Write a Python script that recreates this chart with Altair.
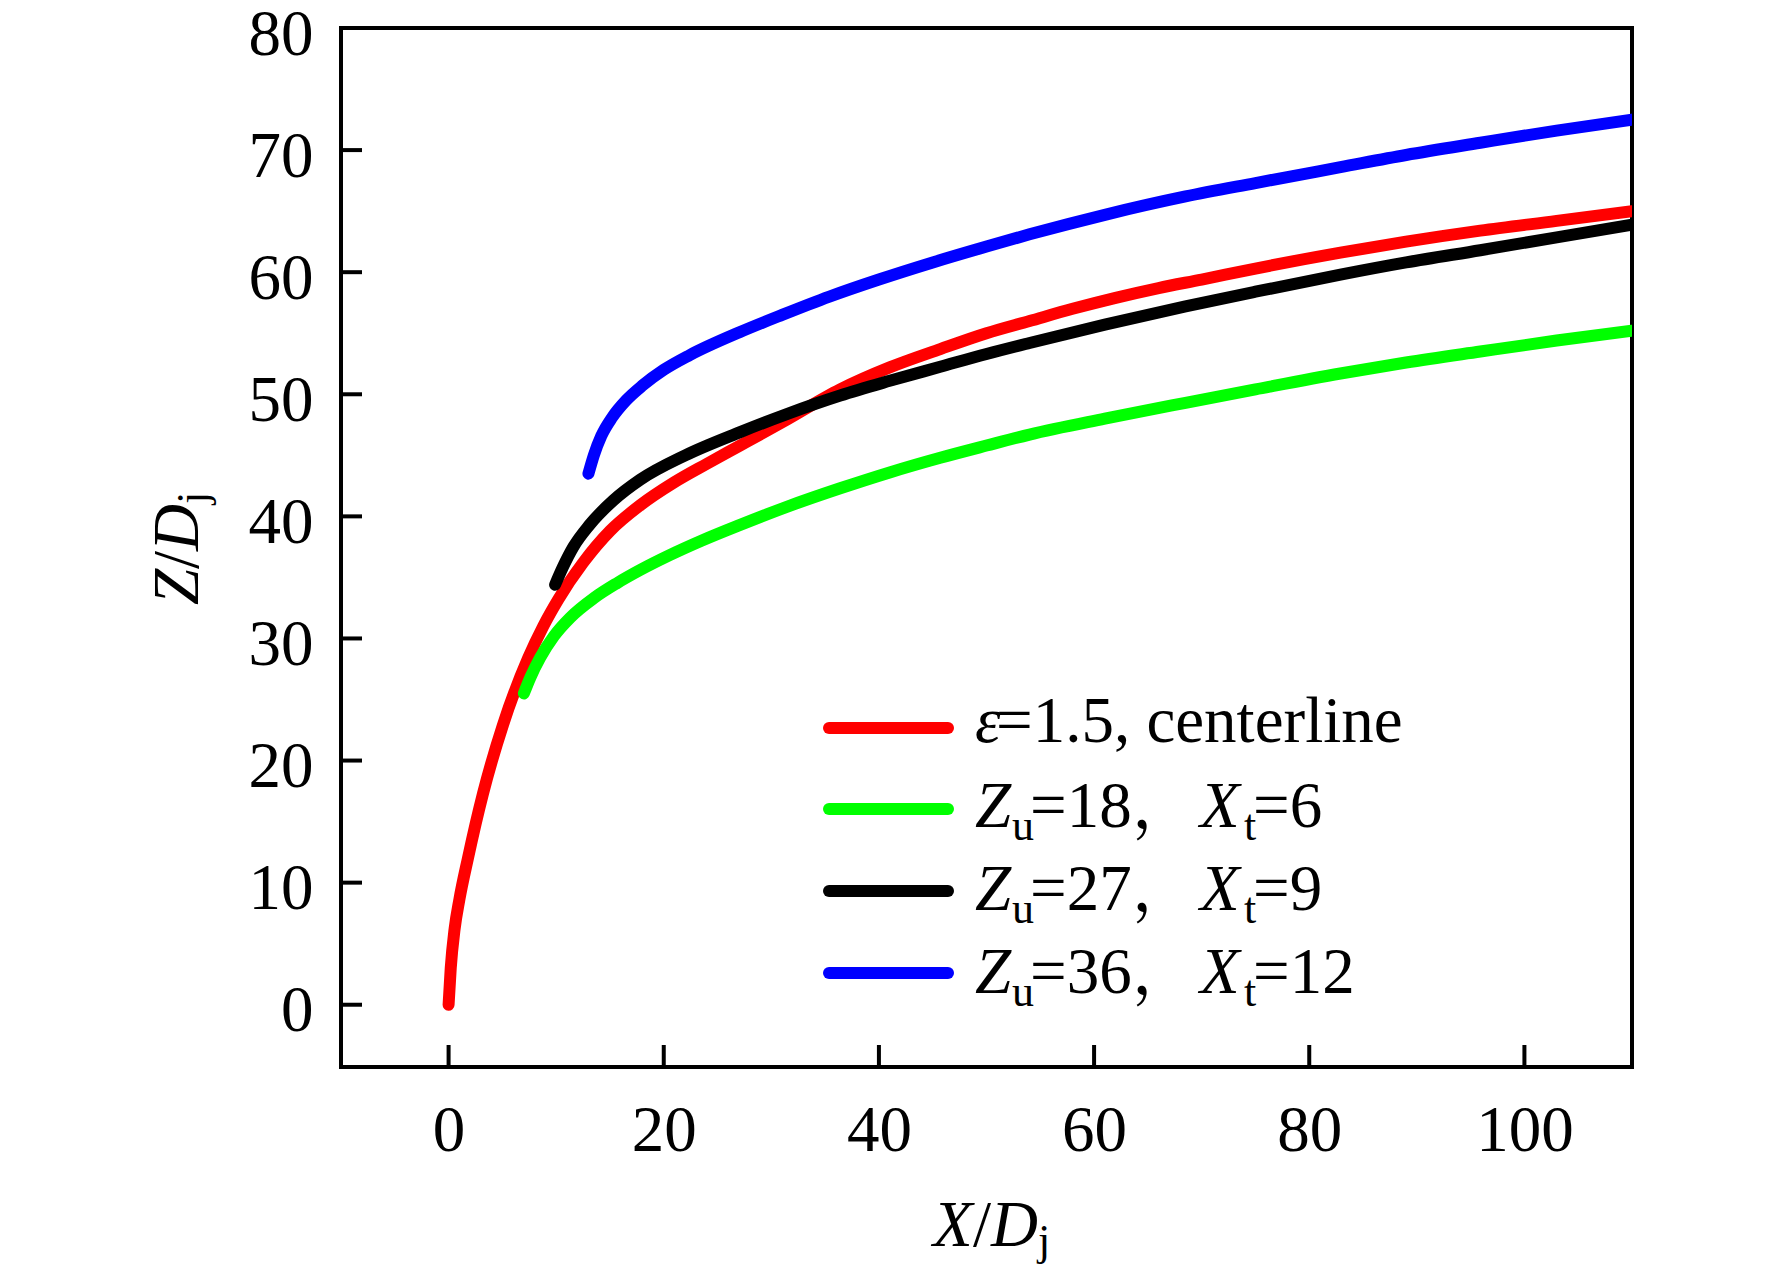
import altair as alt
import pandas as pd

# ---------------- data ----------------
red_x = [0, 0.2, 0.56, 1.0, 1.8, 3.2, 5.05, 7.4, 8.8, 10.2, 12.5, 15.0, 17.8, 21.0, 24.0, 27.1,
         31.0, 36.4, 41.0, 45.7, 50.0, 54.0, 58.0, 62.0, 66.0, 70.0, 75.0, 82.9, 89.0, 95.9,
         103.0, 110.0]
red_z = [0, 3.0, 6.2, 8.6, 12.0, 17.3, 22.9, 28.4, 31.0, 33.2, 36.2, 38.8, 40.9, 42.8, 44.3, 45.8,
         47.7, 50.4, 52.2, 53.7, 55.0, 56.0, 57.0, 57.9, 58.7, 59.4, 60.3, 61.6, 62.5, 63.4,
         64.2, 65.0]

green_x = [7.0, 7.6, 8.5, 9.8, 11.3, 13.5, 15.6, 17.8, 20.5, 23.5, 27.1, 31.5, 36.4, 41.0, 45.7,
           50.0, 54.0, 61.0, 68.5, 75.0, 82.9, 89.0, 95.9, 103.0, 110.0]
green_z = [25.5, 26.8, 28.4, 30.2, 31.7, 33.3, 34.5, 35.6, 36.8, 38.0, 39.3, 40.8, 42.3, 43.6, 44.8,
           45.8, 46.7, 48.0, 49.3, 50.4, 51.7, 52.6, 53.5, 54.4, 55.2]

black_x = [9.9, 10.6, 11.6, 13.1, 15.3, 17.8, 22.0, 27.1, 31.5, 36.4, 41.0, 45.7, 50.0, 54.0,
           61.0, 68.5, 75.0, 82.9, 89.0, 95.9, 103.0, 110.0]
black_z = [34.4, 35.8, 37.5, 39.3, 41.3, 43.0, 45.0, 46.9, 48.4, 49.9, 51.1, 52.25, 53.3, 54.2,
           55.7, 57.2, 58.4, 59.8, 60.8, 61.8, 62.85, 63.9]

blue_x = [13.0, 13.5, 14.2, 15.2, 16.5, 18.0, 20.0, 22.4, 27.1, 31.0, 35.4, 40.0, 45.0, 50.0,
          54.0, 61.0, 68.5, 75.0, 82.9, 89.0, 95.9, 103.0, 110.0]
blue_z = [43.5, 45.0, 46.6, 48.1, 49.5, 50.7, 52.0, 53.2, 55.1, 56.5, 58.0, 59.4, 60.8, 62.1,
          63.1, 64.7, 66.2, 67.3, 68.6, 69.6, 70.6, 71.6, 72.5]

series_names = ["ε=1.5, centerline", "Zu=18, Xt=6", "Zu=27, Xt=9", "Zu=36, Xt=12"]
series_colors = ["#ff0000", "#00ff00", "#000000", "#0000ff"]
zu_values = ["18", "27", "36"]
xt_values = ["6", "9", "12"]

x_ticks = [0, 20, 40, 60, 80, 100]
y_ticks = [0, 10, 20, 30, 40, 50, 60, 70, 80]

# ---------------- layout ----------------
W, H = 1291, 1039
FONT = "Liberation Serif, Times New Roman, Noto Serif CJK SC, Noto Sans CJK SC, serif"
FS = 65
SUB = 44

xs = alt.Scale(domain=[-10, 110], nice=False, zero=False)
ys = alt.Scale(domain=[-5.1, 80], nice=False, zero=False)
xa = alt.Axis(values=x_ticks, ticks=False, domain=False, grid=False, title=None,
              labelFont=FONT, labelFontSize=FS, labelColor="black", labelPadding=32,
              labelFlush=False, labelOverlap=False)
ya = alt.Axis(values=y_ticks, ticks=False, domain=False, grid=False, title=None,
              labelFont=FONT, labelFontSize=FS, labelColor="black", labelPadding=28,
              labelOffset=6, labelFlush=False, labelOverlap=False)

series_xy = [(red_x, red_z), (green_x, green_z), (black_x, black_z), (blue_x, blue_z)]
frames = []
for name, (xx, zz) in zip(series_names, series_xy):
    frames.append(pd.DataFrame({"X": xx, "Z": zz, "series": name}))
df = pd.concat(frames, ignore_index=True)

layers = []
# draw order: red, green, black, blue
for idx in [0, 1, 2, 3]:
    name = series_names[idx]
    layers.append(
        alt.Chart(df[df["series"] == name])
        .mark_line(strokeWidth=12, strokeCap="round", strokeJoin="round",
                   interpolate="monotone", color=series_colors[idx], clip=True)
        .encode(x=alt.X("X:Q", scale=xs, axis=xa), y=alt.Y("Z:Q", scale=ys, axis=ya))
    )

# inward ticks
layers.append(
    alt.Chart(pd.DataFrame({"X": x_ticks}))
    .mark_rule(strokeWidth=4, color="black")
    .encode(x=alt.X("X:Q", scale=xs, axis=xa), y=alt.value(H), y2=alt.value(H - 22))
)
layers.append(
    alt.Chart(pd.DataFrame({"Z": y_ticks}))
    .mark_rule(strokeWidth=4, color="black")
    .encode(y=alt.Y("Z:Q", scale=ys, axis=ya), x=alt.value(0), x2=alt.value(21))
)

one = pd.DataFrame({"k": [0]})


def txt(s, px, py, size=FS, italic=False, angle=None):
    kw = dict(text=s, font=FONT, fontSize=size, fontStyle="italic" if italic else "normal",
              align="left", baseline="alphabetic", color="black")
    if angle is not None:
        kw["angle"] = angle
    return alt.Chart(one).mark_text(**kw).encode(x=alt.value(px), y=alt.value(py))


# legend
sw_y = [700, 781, 863, 945]
tx_y = [714, 799, 882, 965]
for i in range(4):
    layers.append(
        alt.Chart(one).mark_rule(strokeWidth=12, strokeCap="round", color=series_colors[i])
        .encode(x=alt.value(488), x2=alt.value(607), y=alt.value(sw_y[i]))
    )
layers.append(txt("ε", 634, tx_y[0], italic=True))
layers.append(txt("=1.5, centerline", 655, tx_y[0]))
for i in range(3):
    by = tx_y[i + 1]
    layers.append(txt("Z", 634, by, italic=True))
    layers.append(txt("u", 671, by + 13, size=SUB))
    layers.append(txt("=" + zu_values[i] + "，", 689, by))
    layers.append(txt("X", 859, by, italic=True))
    layers.append(txt("t", 903, by + 13, size=SUB))
    layers.append(txt("=" + xt_values[i], 912, by))

# axis titles
tb = 1218
layers.append(txt("X", 592, tb, italic=True))
layers.append(txt("/", 632, tb))
layers.append(txt("D", 650, tb, italic=True))
layers.append(txt("j", 697, tb + 9, size=SUB))

ax_x = -143
layers.append(txt("Z", ax_x, 577, italic=True, angle=270))
layers.append(txt("/", ax_x, 541, angle=270))
layers.append(txt("D", ax_x, 523, italic=True, angle=270))
layers.append(txt("j", ax_x + 9, 476, size=SUB, angle=270))

chart = (
    alt.layer(*layers)
    .properties(width=W, height=H, autosize=alt.AutoSizeParams(type="none"),
                padding={"left": 333, "top": 20, "right": 128, "bottom": 200},
                background="white")
    .configure_view(stroke="black", strokeWidth=4)
)

chart.save("out.html", embed_options={"renderer": "svg", "actions": False})
